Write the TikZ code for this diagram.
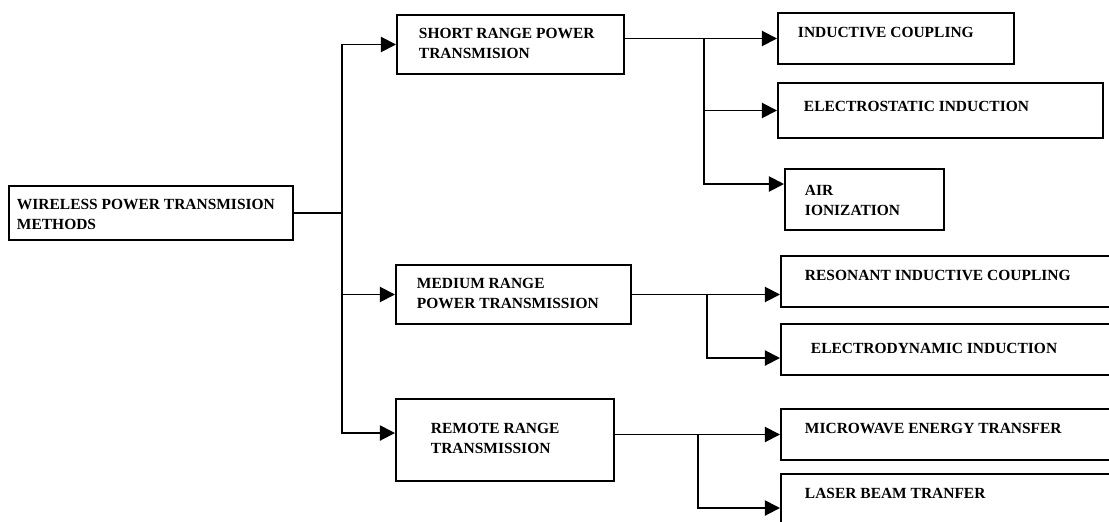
\documentclass[tikz,border=0pt]{standalone}
\usepackage{fontspec}
\setmainfont{Liberation Serif}
\usetikzlibrary{arrows.meta}
\usetikzlibrary{calc}

\begin{document}
\begin{tikzpicture}[%
        x = 0.025cm,
        y = -0.025cm,
        draw = black,
        line width = 1.4pt,
        box/.style = {rectangle, draw, anchor = north west, inner sep = 0pt},
        txt/.style = {anchor = north west, inner sep = 0pt, align = left,
            font = \fontsize{11}{14.6}\selectfont\bfseries},
        arr/.style = {-{Triangle[length=0.38cm, width=0.38cm]}},
        ]

\useasboundingbox[] (0,0) rectangle (1109,521);
% \draw (0,0) grid (1109,521);


% boxes
\node (W) [box, minimum width = 7.1cm, minimum height = 1.35cm] at (8,185) {};

\node (S) [box, minimum width = 5.675cm, minimum height = 1.475cm] at (396,14) {};
\node (M) [box, minimum width = 5.875cm, minimum height = 1.475cm] at (395,264) {};
\node (R) [box, minimum width = 5.45cm, minimum height = 2.05cm] at (395,398) {};

\node (S1) [box, minimum width = 5.9cm, minimum height = 1.275cm] at (777,12) {};
\node (S2) [box, minimum width = 8.125cm, minimum height = 1.375cm] at (777,82) {};
\node (S3) [box, minimum width = 3.975cm, minimum height = 1.525cm] at (784,168) {};

\node (M1) [box, minimum width = 9cm, minimum height = 1.275cm] at (780,255) {};
\node (M2) [box, minimum width = 9cm, minimum height = 1.275cm] at (780,323) {};

\node (R1) [box, minimum width = 9cm, minimum height = 1.275cm] at (780,408) {};
\node (R2) [box, minimum width = 9cm, minimum height = 1.75cm] at (780,473) {};


% texts
\node (tW) [txt] at (16,198) {WIRELESS POWER TRANSMISION\\METHODS};

\node (tS) [txt] at (418,27) {SHORT RANGE POWER\\TRANSMISION};
\node (tM) [txt] at (416,277) {MEDIUM RANGE\\POWER TRANSMISSION};
\node (tR) [txt] at (430,422) {REMOTE RANGE\\TRANSMISSION};

\node (tS1) [txt] at (797,26) {INDUCTIVE COUPLING};
\node (tS2) [txt] at (803,100) {ELECTROSTATIC INDUCTION};
\node (tS3) [txt] at (804,184) {AIR\\IONIZATION};

\node (tM1) [txt] at (804,269) {RESONANT INDUCTIVE COUPLING};
\node (tM2) [txt] at (810,342) {ELECTRODYNAMIC INDUCTION};

\node (tR1) [txt] at (804,422) {MICROWAVE ENERGY TRANSFER};
\node (tR2) [txt] at (804,487) {LASER BEAM TRANFER};


% junctions
\coordinate (jT) at (342,0);
\coordinate (jS) at (704,0);
\coordinate (jM) at (707,0);
\coordinate (jR) at (698,0);


% connectors
\draw (W.east) -- (W.east -| jT);
\draw[arr] (W.east -| jT) |- (S.west);
\draw[arr] (W.east -| jT) |- (M.west);
\draw[arr] (W.east -| jT) |- ([yshift=-0.875cm]R.north west);

\draw[arr] (S.east |- S1.west) -- (S1.west);
\draw[arr] (S1.west -| jS) |- (S2.west);
\draw[arr] (S1.west -| jS) |- ([yshift=-0.4cm]S3.north west);

\draw[arr] (M.east) -- (M.east -| M1.west);
\draw[arr] (M.east -| jM) |- ([yshift=-0.875cm]M2.north west);

\draw[arr] (R.east |- R1.west) -- (R1.west);
\draw[arr] (R1.west -| jR) |- ([yshift=-0.875cm]R2.north west);


\end{tikzpicture}
\end{document}
